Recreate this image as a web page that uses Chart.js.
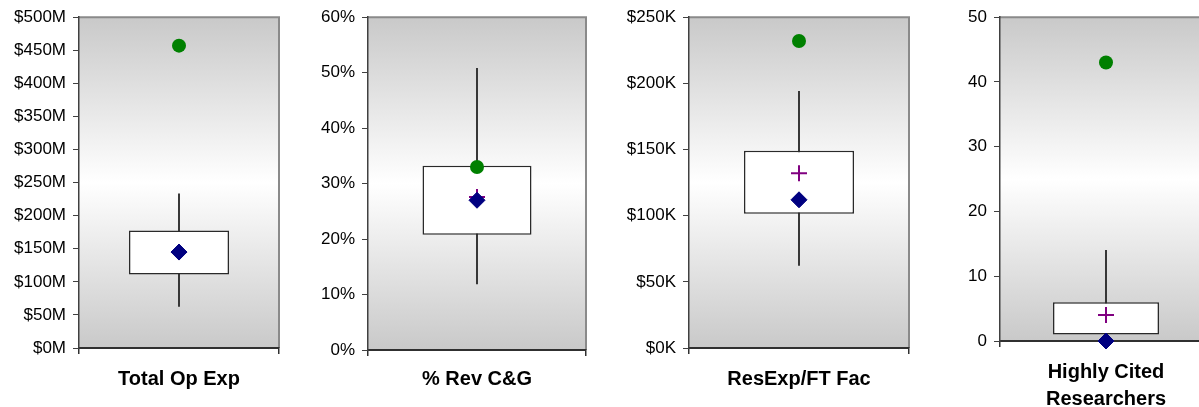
<!DOCTYPE html>
<html>
<head>
<meta charset="utf-8">
<script src="https://cdn.jsdelivr.net/npm/chart.js@4"></script>
<style>
  html, body { margin: 0; padding: 0; background: #fff; overflow: hidden; width: 1199px; height: 407px; }
  canvas { position: absolute; top: 0; }
</style>
</head>
<body>
<canvas id="p0"></canvas>
<canvas id="p1"></canvas>
<canvas id="p2"></canvas>
<canvas id="p3"></canvas>
<script>
// box plot values, one entry per panel
const categories   = ['Total Op Exp', '% Rev C&G', 'ResExp/FT Fac', ['Highly Cited', 'Researchers']];
const whiskerLow   = [63, 11.9, 62.5, 0];
const boxLow       = [111, 20.8, 101.5, 1];
const boxHigh      = [177.5, 33.2, 149, 6];
const whiskerHigh  = [233, 50.8, 194, 14];
const greenValues  = [457, 33, 232, 43];
const diamondValues = [145, 27, 112, 0];
const plusValues   = [145, 27.6, 132, 4];
const yMaxes       = [500, 60, 250, 50];
const ySteps       = [50, 10, 50, 10];
const tickFormats  = [
  v => '$' + v + 'M',
  v => v + '%',
  v => '$' + v + 'K',
  v => '' + v,
];

// panel geometry (pixels)
const panels = [
  { left: 0,   width: 289, height: 407, yW: 79, top: 16, bottom: 348, titlePad: 14.5 },
  { left: 290, width: 306, height: 407, yW: 78, top: 16, bottom: 350, titlePad: 14.5 },
  { left: 600, width: 319, height: 407, yW: 89, top: 16, bottom: 348, titlePad: 14.5 },
  { left: 915, width: 307, height: 420, yW: 85, top: 17, bottom: 341, titlePad: 7 },
];

const FONT = "'Liberation Sans', Arial, sans-serif";

// gradient plot background + grey top/right frame
const plotBg = {
  id: 'plotBg',
  beforeDraw(chart) {
    const { ctx, chartArea: a } = chart;
    const g = ctx.createLinearGradient(0, a.top, 0, a.bottom);
    g.addColorStop(0, '#c9c9c9');
    g.addColorStop(0.5, '#ffffff');
    g.addColorStop(1, '#c9c9c9');
    ctx.save();
    ctx.fillStyle = g;
    ctx.fillRect(a.left, a.top, a.right - a.left, a.bottom - a.top);
    ctx.strokeStyle = '#8a8a8a';
    ctx.lineWidth = 2;
    ctx.beginPath();
    ctx.moveTo(a.left, a.top);
    ctx.lineTo(a.right, a.top);
    ctx.lineTo(a.right, a.bottom);
    ctx.stroke();
    ctx.restore();
  }
};

function makePanel(i) {
  const p = panels[i];
  const canvas = document.getElementById('p' + i);
  canvas.width = p.width;
  canvas.height = p.height;
  canvas.style.left = p.left + 'px';
  canvas.style.width = p.width + 'px';
  canvas.style.height = p.height + 'px';

  const label = Array.isArray(categories[i]) ? categories[i].join(' ') : categories[i];

  return new Chart(canvas, {
    type: 'bar',
    data: {
      labels: [label],
      datasets: [
        {
          // whisker
          data: [[whiskerLow[i], whiskerHigh[i]]],
          backgroundColor: '#2a2a2a',
          borderWidth: 0,
          barThickness: 1.2,
          grouped: false,
          order: 5,
        },
        {
          // box
          data: [[boxLow[i], boxHigh[i]]],
          backgroundColor: '#ffffff',
          borderColor: '#2a2a2a',
          borderWidth: 1.5,
          borderSkipped: false,
          barPercentage: 0.5,
          categoryPercentage: 1,
          grouped: false,
          order: 4,
        },
        {
          type: 'line',
          data: [plusValues[i]],
          showLine: false,
          pointStyle: 'cross',
          pointRadius: 8,
          pointBorderColor: '#800080',
          pointBorderWidth: 2,
          clip: false,
          order: 3,
        },
        {
          type: 'line',
          data: [diamondValues[i]],
          showLine: false,
          pointStyle: 'rectRot',
          pointRadius: 8,
          pointBackgroundColor: '#000080',
          pointBorderColor: '#000080',
          pointBorderWidth: 1,
          clip: false,
          order: 2,
        },
        {
          type: 'line',
          data: [greenValues[i]],
          showLine: false,
          pointStyle: 'circle',
          pointRadius: 7,
          pointBackgroundColor: '#008000',
          pointBorderColor: '#008000',
          pointBorderWidth: 0,
          clip: false,
          order: 1,
        },
      ]
    },
    options: {
      responsive: false,
      animation: false,
      events: [],
      layout: { padding: { top: p.top, right: 2, bottom: 0, left: 0 } },
      plugins: { legend: { display: false }, tooltip: { enabled: false } },
      scales: {
        x: {
          offset: true,
          grid: { offset: true, drawOnChartArea: false, tickLength: 6, tickColor: '#303030', lineWidth: 1.5 },
          border: { color: '#303030', width: 2 },
          ticks: { display: false },
          title: {
            display: true,
            text: categories[i],
            color: '#000',
            font: { family: FONT, size: 20, weight: 'bold', lineHeight: 1.35 },
            padding: { top: 0, bottom: p.titlePad },
          },
          afterFit: s => { s.height = p.height - p.bottom; },
        },
        y: {
          min: 0,
          max: yMaxes[i],
          ticks: {
            stepSize: ySteps[i],
            callback: tickFormats[i],
            color: '#000',
            padding: 7,
            font: { family: FONT, size: 17 },
          },
          grid: { drawOnChartArea: false, tickLength: 6, tickColor: '#404040' },
          border: { color: '#404040', width: 1.5 },
          afterFit: s => { s.width = p.yW; },
        }
      }
    },
    plugins: [plotBg]
  });
}

for (let i = 0; i < 4; i++) makePanel(i);
</script>
</body>
</html>
